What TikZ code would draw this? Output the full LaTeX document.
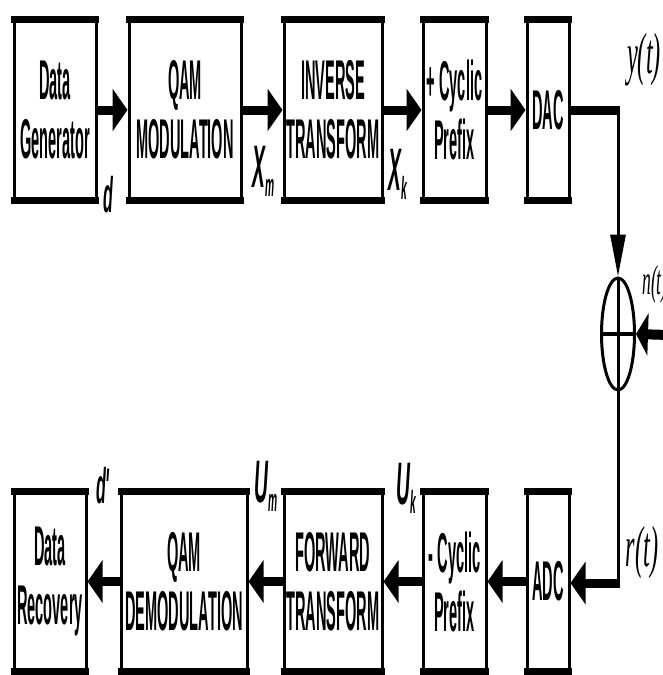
\documentclass[tikz,border=0pt]{standalone}
\usepackage{fontspec}
\usetikzlibrary{arrows.meta,shapes.geometric}
\newfontfamily\boxfont[FakeStretch=0.26]{Liberation Sans}
\newfontfamily\lblfont[FakeStretch=0.32]{Liberation Sans}
\newfontfamily\tmfont[FakeStretch=0.42]{Liberation Serif}
\newcommand\subf[1]{\raisebox{-9pt}{\fontsize{32}{32}\selectfont #1}}
\tikzset{
 blk/.style={draw, line width=3pt, inner sep=0pt, align=center,
   font=\boxfont\bfseries\fontsize{56}{59}\selectfont},
 bar/.style={line width=7pt, shorten <=-1.5pt, shorten >=-1.5pt},
 flow/.style={line width=9pt, -{Triangle[length=15pt,width=42pt]}},
 wire/.style={line width=3pt},
 lbl/.style={inner sep=0pt, anchor=base west, font=\lblfont\bfseries\itshape\fontsize{60}{60}\selectfont},
 sig/.style={inner sep=0pt, font=\tmfont\itshape\fontsize{58}{58}\selectfont},
}
\begin{document}
\begin{tikzpicture}[x=1pt,y=-1pt]
\useasboundingbox (0,0) rectangle (662,675);
\fill[white] (0,0) rectangle (662,675);
% top row
\node[blk, minimum width=82pt, minimum height=178pt] (gen) at (55,110) {Data\\Generator};
\node[blk, minimum width=112pt, minimum height=178pt] (qam) at (185,110) {QAM\\MODULATION};
\node[blk, minimum width=98pt, minimum height=178pt] (inv) at (333,110) {INVERSE\\TRANSFORM};
\node[blk, minimum width=63pt, minimum height=178pt] (cp) at (454.5,110) {+ Cyclic\\Prefix};
\node[blk, minimum width=42pt, minimum height=178pt] (dac) at (548,110) {DAC};
% bottom row
\node[blk, minimum width=72pt, minimum height=177pt] (rec) at (50,581.5) {Data\\Recovery};
\node[blk, minimum width=126pt, minimum height=177pt] (dem) at (184,581.5) {QAM\\DEMODULATION};
\node[blk, minimum width=98pt, minimum height=177pt] (fwd) at (333,581.5) {FORWARD\\TRANSFORM};
\node[blk, minimum width=63pt, minimum height=177pt] (mcp) at (454.5,581.5) {- Cyclic\\Prefix};
\node[blk, minimum width=42pt, minimum height=177pt] (adc) at (548,581.5) {ADC};
\foreach \n in {gen,qam,inv,cp,dac,rec,dem,fwd,mcp,adc}{
  \draw[bar] (\n.north west) -- (\n.north east);
  \draw[bar] (\n.south west) -- (\n.south east);
}
% summing junction
\node[draw, ellipse, line width=3pt, minimum width=33pt, minimum height=112pt, inner sep=0pt] (sum) at (618,334) {};
\draw[wire] (sum.north) -- (sum.south);
\draw[line width=4pt] (sum.west) -- (sum.east);
% top flow
\draw[flow] (gen) -- (qam);
\draw[flow] (qam) -- (inv);
\draw[flow] (inv) -- (cp);
\draw[flow] (cp) -- (dac);
\coordinate (c1) at (618,110);
\coordinate (c2) at (618,583);
\coordinate (nin) at (668,335);
\draw[line width=9pt] (dac.east) -- ([xshift=1.5pt]c1);
\draw[wire, -{Triangle[length=42pt,width=15pt]}] ([yshift=-4.5pt]c1) -- (sum.north);
\draw[line width=10pt, -{Triangle[length=12pt,width=42pt]}] (nin) -- (sum.east);
\draw[wire] (sum.south) -- ([yshift=4.5pt]c2);
\draw[line width=9pt, -{Triangle[length=15pt,width=42pt]}] ([xshift=1.5pt]c2) -- (adc.east |- c2);
% bottom flow
\draw[flow] (adc) -- (mcp);
\draw[flow] (mcp) -- (fwd);
\draw[flow] (fwd) -- (dem);
\draw[flow] (dem) -- (rec);
% labels
\node[lbl, font=\lblfont\bfseries\itshape\fontsize{50}{50}\selectfont] (ld) at (103,212) {d};
\node[lbl] (lxm) at (252,187) {X\subf{m}};
\node[lbl] (lxk) at (388,190) {X\subf{k}};
\node[lbl, font=\lblfont\bfseries\itshape\fontsize{50}{50}\selectfont] (ldp) at (96,503) {d'};
\node[lbl] (lum) at (254,502) {U\subf{m}};
\node[lbl] (luk) at (396,504) {U\subf{k}};
\node[sig] (ly) at (644,60) {y(t)};
\node[sig] (lr) at (642,553) {r(t)};
\node[sig, anchor=west, font=\tmfont\itshape\fontsize{42}{42}\selectfont] (ln) at (642,284) {n(t)};
\end{tikzpicture}
\end{document}
